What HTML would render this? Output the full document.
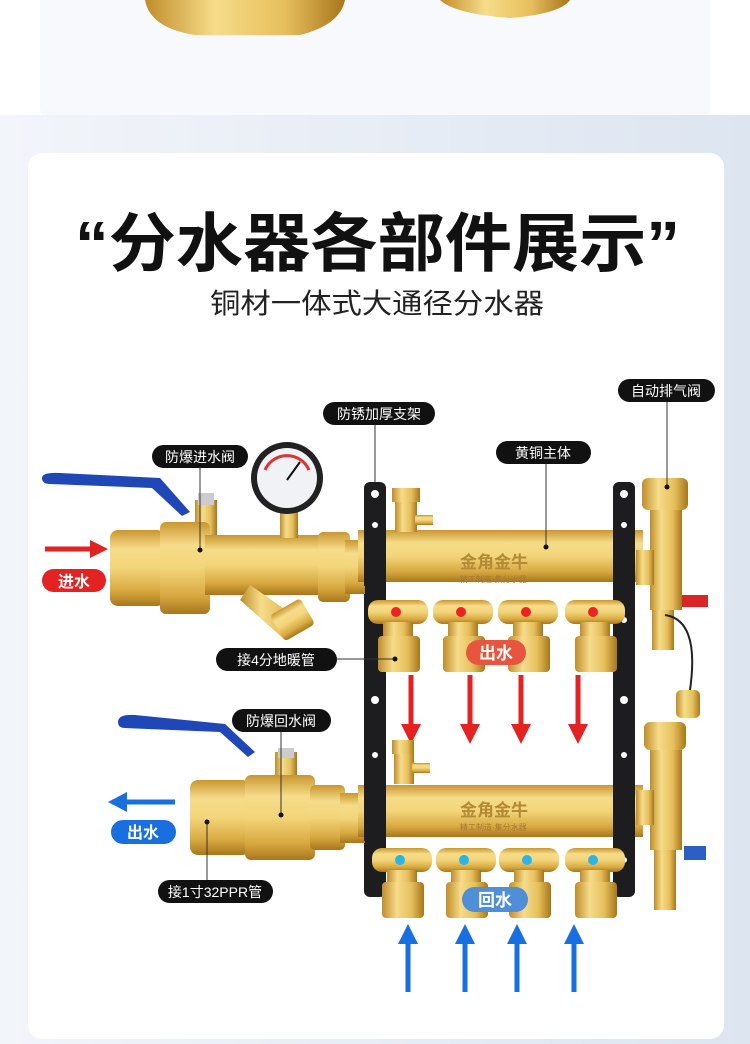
<!DOCTYPE html>
<html><head><meta charset="utf-8"><style>
html,body{margin:0;padding:0;width:750px;height:1044px;overflow:hidden;background:#fff}
svg{display:block}
text{font-family:"Liberation Sans","Noto Sans CJK SC",sans-serif}
</style></head><body>
<svg width="750" height="1044" viewBox="0 0 750 1044" xmlns="http://www.w3.org/2000/svg">
<defs>
<linearGradient id="bg" x1="0" x2="1"><stop offset="0" stop-color="#f2f5fa"/><stop offset="1" stop-color="#dde5f1"/></linearGradient>
<linearGradient id="brass" x1="0" y1="0" x2="0" y2="1"><stop offset="0" stop-color="#c9972e"/><stop offset=".25" stop-color="#f6dc8a"/><stop offset=".5" stop-color="#f3d57a"/><stop offset=".8" stop-color="#d8a941"/><stop offset="1" stop-color="#a8761c"/></linearGradient>
<linearGradient id="brassH" x1="0" y1="0" x2="1" y2="0"><stop offset="0" stop-color="#c08d2a"/><stop offset=".35" stop-color="#f6dc8a"/><stop offset=".7" stop-color="#e6bf5c"/><stop offset="1" stop-color="#a8761c"/></linearGradient>
</defs>
<!-- top section -->
<rect x="0" y="0" width="750" height="165" fill="#fff"/>
<rect x="40" y="-20" width="670" height="138" rx="10" fill="#f8f9fc"/>
<path d="M145 0 H345 Q340 25 300 35 H195 Q150 28 145 0Z" fill="url(#brassH)"/>
<path d="M440 0 H570 Q560 14 510 18 Q455 14 440 0Z" fill="url(#brassH)"/>
<rect x="0" y="165" width="750" height="879" fill="url(#bg)"/>
<rect x="0" y="115" width="750" height="60" fill="url(#bg)"/>
<rect x="28" y="153" width="696" height="886" rx="14" fill="#fff"/>

<!-- titles -->
<text x="75" y="266" font-size="64" font-weight="bold" fill="#111" textLength="605" lengthAdjust="spacingAndGlyphs">“分水器各部件展示”</text>
<text x="210" y="313" font-size="28" fill="#222" textLength="334" lengthAdjust="spacingAndGlyphs">铜材一体式大通径分水器</text>

<!-- brackets -->
<g fill="#1d1d1f">
<rect x="364" y="482" width="22" height="415" rx="6"/>
<rect x="613" y="482" width="22" height="415" rx="6"/>
</g>
<g fill="#fff">
<circle cx="375" cy="494" r="4"/><circle cx="375" cy="525" r="3"/><circle cx="375" cy="620" r="3"/><circle cx="375" cy="700" r="4"/><circle cx="375" cy="755" r="3"/><circle cx="375" cy="860" r="3"/>
<circle cx="624" cy="494" r="4"/><circle cx="624" cy="525" r="3"/><circle cx="624" cy="620" r="3"/><circle cx="624" cy="700" r="4"/><circle cx="624" cy="755" r="3"/><circle cx="624" cy="860" r="3"/>
</g>

<!-- upper inlet assembly -->
<path d="M42 478 Q42 472 60 473 L160 478 L190 512 L182 516 L152 488 L50 484 Q42 484 42 478Z" fill="#1f47b8"/>
<rect x="195" y="500" width="22" height="35" fill="url(#brassH)"/>
<rect x="198" y="493" width="16" height="12" fill="#ccc"/>
<rect x="110" y="530" width="55" height="76" rx="8" fill="url(#brass)"/>
<rect x="160" y="522" width="50" height="92" rx="6" fill="url(#brass)"/>
<rect x="205" y="535" width="120" height="60" fill="url(#brass)"/>
<path d="M250 585 L300 620 L285 640 L240 600Z" fill="url(#brassH)"/>
<rect x="275" y="605" width="35" height="30" rx="4" transform="rotate(-30 292 620)" fill="url(#brass)"/>
<rect x="280" y="510" width="18" height="28" fill="url(#brassH)"/>
<rect x="318" y="532" width="32" height="70" rx="5" fill="url(#brass)"/>
<rect x="345" y="540" width="20" height="54" fill="url(#brass)"/>
<circle cx="287" cy="478" r="36" fill="#222"/>
<circle cx="287" cy="478" r="30" fill="#f0f2f5"/>
<path d="M265 470 A24 24 0 0 1 309 470" stroke="#d33" stroke-width="3" fill="none"/>
<line x1="287" y1="480" x2="300" y2="462" stroke="#111" stroke-width="2"/>
<line x1="45" y1="549" x2="92" y2="549" stroke="#e52222" stroke-width="5"/>
<path d="M90 540 L108 549 L90 558Z" fill="#e52222"/>
<rect x="42" y="569" width="64" height="23" rx="11.5" fill="#e52222"/>
<text x="74" y="587" font-size="16" font-weight="bold" fill="#fff" text-anchor="middle">进水</text>

<!-- upper manifold -->
<rect x="358" y="530" width="285" height="52" fill="url(#brass)"/>
<rect x="364" y="528" width="22" height="58" fill="#1d1d1f"/>
<rect x="613" y="528" width="22" height="58" fill="#1d1d1f"/>
<text x="460" y="568" font-size="17" font-weight="bold" fill="#b38a36">金角金牛</text>
<text x="460" y="582" font-size="8" fill="#a07b33">精工制造·集分水器</text>
<rect x="392" y="488" width="28" height="14" fill="url(#brassH)"/>
<rect x="395" y="502" width="22" height="30" fill="url(#brassH)"/>
<rect x="415" y="515" width="18" height="10" fill="url(#brass)"/>
<g>
<g transform="translate(398,0)"><rect x="-30" y="600" width="60" height="24" rx="10" fill="url(#brass)"/><rect x="-15" y="622" width="30" height="16" fill="url(#brassH)"/><rect x="-20" y="636" width="42" height="36" rx="4" fill="url(#brassH)"/><circle cx="-2" cy="612" r="5" fill="#e22"/></g>
<g transform="translate(463,0)"><rect x="-30" y="600" width="60" height="24" rx="10" fill="url(#brass)"/><rect x="-15" y="622" width="30" height="16" fill="url(#brassH)"/><rect x="-20" y="636" width="42" height="36" rx="4" fill="url(#brassH)"/><circle cx="-2" cy="612" r="5" fill="#e22"/></g>
<g transform="translate(528,0)"><rect x="-30" y="600" width="60" height="24" rx="10" fill="url(#brass)"/><rect x="-15" y="622" width="30" height="16" fill="url(#brassH)"/><rect x="-20" y="636" width="42" height="36" rx="4" fill="url(#brassH)"/><circle cx="-2" cy="612" r="5" fill="#e22"/></g>
<g transform="translate(595,0)"><rect x="-30" y="600" width="60" height="24" rx="10" fill="url(#brass)"/><rect x="-15" y="622" width="30" height="16" fill="url(#brassH)"/><rect x="-20" y="636" width="42" height="36" rx="4" fill="url(#brassH)"/><circle cx="-2" cy="612" r="5" fill="#e22"/></g>
</g>
<rect x="466" y="640" width="60" height="25" rx="12.5" fill="#e8553f"/>
<text x="496" y="659" font-size="17" font-weight="bold" fill="#fff" text-anchor="middle">出水</text>
<!-- upper vent -->
<rect x="642" y="478" width="46" height="32" rx="6" fill="url(#brassH)"/>
<rect x="650" y="510" width="32" height="100" fill="url(#brassH)"/>
<rect x="636" y="550" width="18" height="35" fill="url(#brassH)"/>
<rect x="652" y="610" width="22" height="40" fill="url(#brassH)"/>
<rect x="682" y="595" width="26" height="12" fill="#d92525"/>
<path d="M665 615 Q700 620 690 690" stroke="#222" stroke-width="2" fill="none"/>
<rect x="676" y="690" width="24" height="28" rx="5" fill="url(#brassH)"/>
<!-- red arrows -->
<g stroke="#e52222" stroke-width="5">
<line x1="411" y1="675" x2="411" y2="728"/><line x1="470" y1="675" x2="470" y2="728"/><line x1="521" y1="675" x2="521" y2="728"/><line x1="578" y1="675" x2="578" y2="728"/>
</g>
<g fill="#e52222">
<path d="M401 724 L421 724 L411 744Z"/><path d="M460 724 L480 724 L470 744Z"/><path d="M511 724 L531 724 L521 744Z"/><path d="M568 724 L588 724 L578 744Z"/>
</g>

<!-- lower inlet -->
<path d="M118 722 Q118 714 135 715 L225 724 L255 752 L248 757 L220 732 L125 728 Q118 728 118 722Z" fill="#1f47b8"/>
<rect x="275" y="752" width="22" height="30" fill="url(#brassH)"/>
<rect x="278" y="748" width="16" height="10" fill="#ccc"/>
<rect x="190" y="780" width="60" height="75" rx="8" fill="url(#brass)"/>
<rect x="245" y="775" width="70" height="85" rx="6" fill="url(#brass)"/>
<rect x="310" y="785" width="35" height="65" rx="5" fill="url(#brass)"/>
<rect x="340" y="793" width="25" height="50" fill="url(#brass)"/>
<line x1="112" y1="802" x2="175" y2="802" stroke="#1a6fe0" stroke-width="5"/>
<path d="M127 792 L108 802 L127 812Z" fill="#1a6fe0"/>
<rect x="111" y="820" width="65" height="24" rx="12" fill="#1a6fe0"/>
<text x="143" y="838" font-size="16" font-weight="bold" fill="#fff" text-anchor="middle">出水</text>

<!-- lower manifold -->
<rect x="392" y="740" width="22" height="14" fill="url(#brassH)"/>
<rect x="394" y="754" width="20" height="30" fill="url(#brassH)"/>
<rect x="412" y="763" width="18" height="10" fill="url(#brass)"/>
<rect x="358" y="785" width="285" height="52" fill="url(#brass)"/>
<rect x="364" y="783" width="22" height="58" fill="#1d1d1f"/>
<rect x="613" y="783" width="22" height="58" fill="#1d1d1f"/>
<text x="460" y="816" font-size="17" font-weight="bold" fill="#b38a36">金角金牛</text>
<text x="460" y="830" font-size="8" fill="#a07b33">精工制造·集分水器</text>
<g transform="translate(402,0)"><rect x="-30" y="848" width="60" height="24" rx="10" fill="url(#brass)"/><rect x="-15" y="870" width="30" height="14" fill="url(#brassH)"/><rect x="-20" y="882" width="42" height="36" rx="4" fill="url(#brassH)"/><circle cx="-2" cy="860" r="5" fill="#2ab4e8"/></g>
<g transform="translate(466,0)"><rect x="-30" y="848" width="60" height="24" rx="10" fill="url(#brass)"/><rect x="-15" y="870" width="30" height="14" fill="url(#brassH)"/><rect x="-20" y="882" width="42" height="36" rx="4" fill="url(#brassH)"/><circle cx="-2" cy="860" r="5" fill="#2ab4e8"/></g>
<g transform="translate(529,0)"><rect x="-30" y="848" width="60" height="24" rx="10" fill="url(#brass)"/><rect x="-15" y="870" width="30" height="14" fill="url(#brassH)"/><rect x="-20" y="882" width="42" height="36" rx="4" fill="url(#brassH)"/><circle cx="-2" cy="860" r="5" fill="#2ab4e8"/></g>
<g transform="translate(595,0)"><rect x="-30" y="848" width="60" height="24" rx="10" fill="url(#brass)"/><rect x="-15" y="870" width="30" height="14" fill="url(#brassH)"/><rect x="-20" y="882" width="42" height="36" rx="4" fill="url(#brassH)"/><circle cx="-2" cy="860" r="5" fill="#2ab4e8"/></g>
<rect x="462" y="887" width="66" height="25" rx="12.5" fill="#4f8fd8"/>
<text x="495" y="906" font-size="17" font-weight="bold" fill="#fff" text-anchor="middle">回水</text>
<!-- lower vent -->
<rect x="644" y="722" width="42" height="28" rx="6" fill="url(#brassH)"/>
<rect x="650" y="750" width="32" height="100" fill="url(#brassH)"/>
<rect x="636" y="790" width="18" height="35" fill="url(#brassH)"/>
<rect x="654" y="850" width="22" height="60" fill="url(#brassH)"/>
<rect x="684" y="846" width="22" height="14" fill="#2b5fc4"/>
<!-- blue arrows -->
<g stroke="#1a6fe0" stroke-width="5">
<line x1="408" y1="940" x2="408" y2="992"/><line x1="465" y1="940" x2="465" y2="992"/><line x1="517" y1="940" x2="517" y2="992"/><line x1="574" y1="940" x2="574" y2="992"/>
</g>
<g fill="#1a6fe0">
<path d="M398 944 L418 944 L408 924Z"/><path d="M455 944 L475 944 L465 924Z"/><path d="M507 944 L527 944 L517 924Z"/><path d="M564 944 L584 944 L574 924Z"/>
</g>

<!-- label leader lines -->
<g stroke="#333" stroke-width="1" fill="none">
<line x1="200" y1="468" x2="200" y2="550"/>
<line x1="375" y1="424" x2="375" y2="482"/>
<line x1="546" y1="464" x2="546" y2="547"/>
<line x1="667" y1="402" x2="667" y2="487"/>
<line x1="337" y1="659" x2="395" y2="659"/>
<line x1="281" y1="731" x2="281" y2="815"/>
<line x1="207" y1="822" x2="207" y2="880"/>
</g>
<g fill="#111">
<circle cx="200" cy="550" r="2.5"/><circle cx="546" cy="547" r="2.5"/><circle cx="667" cy="487" r="2.5"/><circle cx="281" cy="815" r="2.5"/><circle cx="207" cy="822" r="2.5"/><circle cx="395" cy="659" r="2.5"/>
</g>
<!-- labels -->
<g fill="#111">
<rect x="152" y="445" width="96" height="23" rx="11.5"/>
<rect x="323" y="402" width="112" height="23" rx="11.5"/>
<rect x="496" y="441" width="95" height="23" rx="11.5"/>
<rect x="618" y="379" width="97" height="23" rx="11.5"/>
<rect x="216" y="648" width="121" height="23" rx="11.5"/>
<rect x="232" y="709" width="99" height="23" rx="11.5"/>
<rect x="158" y="880" width="115" height="23" rx="11.5"/>
</g>
<g fill="#fff" font-size="14" text-anchor="middle">
<text x="200" y="462">防爆进水阀</text>
<text x="379" y="419">防锈加厚支架</text>
<text x="543" y="458">黄铜主体</text>
<text x="666" y="396">自动排气阀</text>
<text x="276" y="665">接4分地暖管</text>
<text x="281" y="726">防爆回水阀</text>
<text x="215" y="897">接1寸32PPR管</text>
</g>
</svg>
</body></html>
